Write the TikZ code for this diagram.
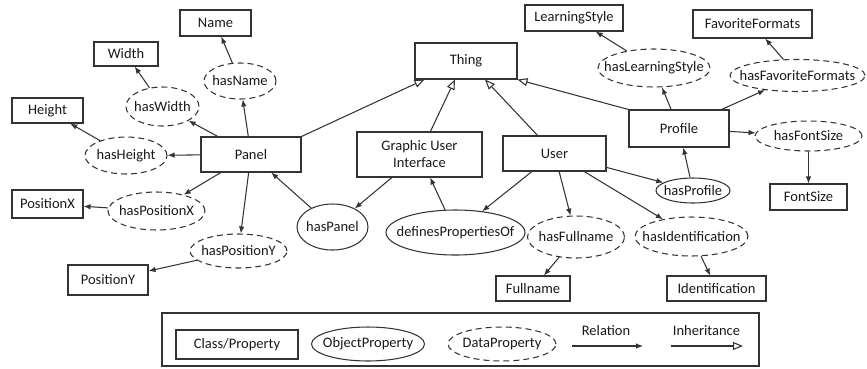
\documentclass[tikz,border=0pt]{standalone}
\usepackage{fontspec}
\setmainfont{Carlito}
\usetikzlibrary{shapes.geometric,arrows.meta}
\begin{document}
\begin{tikzpicture}[x=1pt,y=-1pt,line width=1.05pt,
  every node/.style={text=black!90,font=\fontsize{14.5}{17}\selectfont},
  classbox/.style={rectangle,draw=black!80,inner sep=0pt,align=center},
  objprop/.style={ellipse,draw=black!80,inner xsep=-30pt,inner ysep=0pt},
  dataprop/.style={ellipse,draw=black!80,dash pattern=on 6pt off 4pt,inner xsep=-30pt,inner ysep=0pt},
  relation/.style={draw=black!80,-{Latex[length=7pt,width=5.5pt]}},
  inherit/.style={draw=black!80,-{Triangle[open,length=10pt,width=8pt]}}]
\useasboundingbox (0,0) rectangle (867,368);
% classes
\node [classbox,minimum width=102pt,minimum height=36pt] (Thing) at (466,61) {Thing};
\node [classbox,minimum width=100pt,minimum height=35pt] (Panel) at (251,154.5) {Panel};
\node [classbox,minimum width=125pt,minimum height=45pt] (GUI) at (419.5,154.5) {Graphic User\\Interface};
\node [classbox,minimum width=103pt,minimum height=35pt] (User) at (554.5,153.5) {User};
\node [classbox,minimum width=100pt,minimum height=37pt] (Profile) at (679,128.5) {Profile};
\node [classbox,minimum width=71pt,minimum height=26pt] (Name) at (215.5,23) {Name};
\node [classbox,minimum width=64pt,minimum height=24pt] (Width) at (126,54) {Width};
\node [classbox,minimum width=71pt,minimum height=25pt] (Height) at (47.5,110.5) {Height};
\node [classbox,minimum width=71pt,minimum height=28pt] (PositionX) at (47.5,204) {PositionX};
\node [classbox,minimum width=80pt,minimum height=30pt] (PositionY) at (108,280) {PositionY};
\node [classbox,minimum width=74pt,minimum height=25pt] (Fullname) at (533,288.5) {Fullname};
\node [classbox,minimum width=99pt,minimum height=25pt] (Identification) at (716.5,288.5) {Identification};
\node [classbox,minimum width=98pt,minimum height=26pt] (LearningStyle) at (574,18) {LearningStyle};
\node [classbox,minimum width=119pt,minimum height=28pt] (FavoriteFormats) at (752.5,24) {FavoriteFormats};
\node [classbox,minimum width=77pt,minimum height=26pt] (FontSize) at (808.5,197) {FontSize};
% object properties
\node [objprop,minimum width=71pt,minimum height=46pt] (hasPanel) at (332.5,227) {hasPanel};
\node [objprop,minimum width=139pt,minimum height=45pt] (definesPropertiesOf) at (455.5,232.5) {definesPropertiesOf};
\node [objprop,minimum width=74pt,minimum height=25pt] (hasProfile) at (693,190.5) {hasProfile};
% data properties
\node [dataprop,minimum width=72pt,minimum height=36pt] (hasName) at (240,81) {hasName};
\node [dataprop,minimum width=73pt,minimum height=39pt] (hasWidth) at (162.5,106.5) {hasWidth};
\node [dataprop,minimum width=82pt,minimum height=37pt] (hasHeight) at (126,155.5) {hasHeight};
\node [dataprop,minimum width=97pt,minimum height=38pt] (hasPositionX) at (156.5,211) {hasPositionX};
\node [dataprop,minimum width=97pt,minimum height=34pt] (hasPositionY) at (238.5,251) {hasPositionY};
\node [dataprop,minimum width=97pt,minimum height=42pt] (hasFullname) at (576,237) {hasFullname};
\node [dataprop,minimum width=113pt,minimum height=39pt] (hasIdentification) at (691.5,236.5) {hasIdentification};
\node [dataprop,minimum width=112pt,minimum height=38pt] (hasLearningStyle) at (654,68) {hasLearningStyle};
\node [dataprop,minimum width=135pt,minimum height=32pt] (hasFavoriteFormats) at (797.5,75.5) {hasFavoriteFormats};
\node [dataprop,minimum width=107pt,minimum height=30pt] (hasFontSize) at (808.5,136) {hasFontSize};
% inheritance
\draw [inherit] (Panel.north east) -- ([xshift=10pt]Thing.south west);
\draw [inherit] (GUI) -- ([xshift=-11pt]Thing.south);
\draw [inherit] (User) -- ([xshift=19pt]Thing.south);
\draw [inherit] (Profile.north west) -- (Thing.south east);
% relations
\draw [relation] (Panel) -- (hasName);
\draw [relation] (hasName) -- (Name);
\draw [relation] (Panel) -- (hasWidth);
\draw [relation] (hasWidth) -- (Width);
\draw [relation] (Panel) -- (hasHeight);
\draw [relation] (hasHeight) -- (Height);
\draw [relation] (Panel) -- (hasPositionX);
\draw [relation] (hasPositionX) -- (PositionX);
\draw [relation] (Panel) -- (hasPositionY);
\draw [relation] (hasPositionY) -- (PositionY);
\draw [relation] (hasPanel) -- (Panel);
\draw [relation] (GUI) -- (hasPanel);
\draw [relation] (definesPropertiesOf) -- (GUI);
\draw [relation] (User) -- (definesPropertiesOf);
\draw [relation] (User) -- (hasFullname);
\draw [relation] (hasFullname) -- (Fullname);
\draw [relation] (User) -- (hasIdentification);
\draw [relation] (hasIdentification) -- (Identification);
\draw [relation] (User) -- (hasProfile);
\draw [relation] (hasProfile) -- (Profile);
\draw [relation] (Profile) -- (hasLearningStyle);
\draw [relation] (hasLearningStyle) -- (LearningStyle);
\draw [relation] (Profile) -- (hasFavoriteFormats);
\draw [relation] (hasFavoriteFormats) -- (FavoriteFormats);
\draw [relation] (Profile) -- (hasFontSize);
\draw [relation] (hasFontSize) -- (FontSize);
% legend
\node [classbox,minimum width=597pt,minimum height=53pt] (legend) at (460.5,339.5) {};
\node [classbox,minimum width=122pt,minimum height=29pt] (lgClass) at (237,344.5) {Class/Property};
\node [objprop,minimum width=113pt,minimum height=34pt] (lgObject) at (368,344) {ObjectProperty};
\node [dataprop,minimum width=108pt,minimum height=34pt] (lgData) at (502,344) {DataProperty};
\node (lgRelation) at (606,331) {Relation};
\node (lgInherit) at (706.5,331) {Inheritance};
\coordinate (relA) at (572,346);
\coordinate (relB) at (643,346);
\coordinate (inhA) at (671,346);
\coordinate (inhB) at (743,346);
\draw [relation] (relA) -- (relB);
\draw [inherit] (inhA) -- (inhB);
\end{tikzpicture}
\end{document}
